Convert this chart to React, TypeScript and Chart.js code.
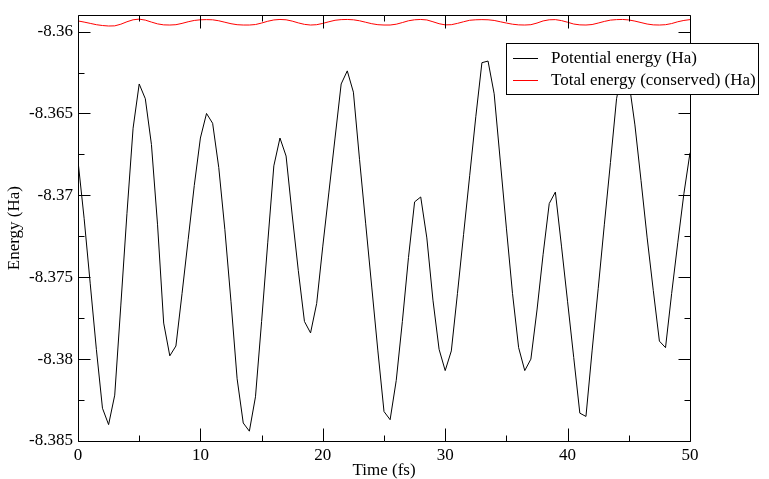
import React, { useEffect, useRef } from "react";
import { Chart, registerables } from "chart.js";

Chart.register(...registerables);

const TIME = [
  0, 0.5, 1, 1.5, 2, 2.5, 3, 3.5, 4, 4.5, 5, 5.5, 6, 6.5, 7, 7.5, 8, 8.5, 9, 9.5,
  10, 10.5, 11, 11.5, 12, 12.5, 13, 13.5, 14, 14.5, 15, 15.5, 16, 16.5, 17, 17.5, 18, 18.5, 19, 19.5,
  20, 20.5, 21, 21.5, 22, 22.5, 23, 23.5, 24, 24.5, 25, 25.5, 26, 26.5, 27, 27.5, 28, 28.5, 29, 29.5,
  30, 30.5, 31, 31.5, 32, 32.5, 33, 33.5, 34, 34.5, 35, 35.5, 36, 36.5, 37, 37.5, 38, 38.5, 39, 39.5,
  40, 40.5, 41, 41.5, 42, 42.5, 43, 43.5, 44, 44.5, 45, 45.5, 46, 46.5, 47, 47.5, 48, 48.5, 49, 49.5,
  50,
];

const POTENTIAL = [
  -8.3679, -8.3714, -8.3754, -8.3794, -8.383, -8.384, -8.3822, -8.3767, -8.3711, -8.3659,
  -8.3632, -8.3641, -8.3669, -8.3718, -8.3778, -8.3798, -8.3792, -8.376, -8.3727, -8.3694,
  -8.3665, -8.365, -8.3656, -8.3683, -8.3721, -8.3765, -8.3812, -8.3839, -8.3844, -8.3823,
  -8.3777, -8.3729, -8.3682, -8.3665, -8.3676, -8.3712, -8.3746, -8.3777, -8.3784, -8.3766,
  -8.3731, -8.3698, -8.3665, -8.3632, -8.3624, -8.3637, -8.3678, -8.3717, -8.3756, -8.3795,
  -8.3832, -8.3837, -8.3813, -8.3777, -8.3738, -8.3704, -8.3701, -8.3726, -8.3764, -8.3794,
  -8.3807, -8.3795, -8.376, -8.3724, -8.3688, -8.3652, -8.3619, -8.3618, -8.3638, -8.3679,
  -8.372, -8.376, -8.3793, -8.3807, -8.38, -8.377, -8.3736, -8.3705, -8.3698, -8.3731,
  -8.3765, -8.3799, -8.3833, -8.3835, -8.3795, -8.3757, -8.3718, -8.368, -8.3641, -8.3622,
  -8.363, -8.3657, -8.3691, -8.3726, -8.3758, -8.3789, -8.3793, -8.376, -8.3729, -8.3699,
  -8.3674,
];

const TOTAL = [
  -8.35935, -8.35942, -8.3595, -8.35958, -8.35963, -8.35966, -8.35965, -8.35955, -8.3594, -8.35928,
  -8.35924, -8.3593, -8.35942, -8.35953, -8.35959, -8.3596, -8.35958, -8.3595, -8.3594, -8.35932,
  -8.35928, -8.35927, -8.35928, -8.35934, -8.35943, -8.35952, -8.35958, -8.3596, -8.3596, -8.35957,
  -8.35948, -8.35937, -8.35929, -8.35926, -8.35928, -8.35936, -8.35947, -8.35956, -8.3596, -8.35958,
  -8.3595, -8.3594, -8.35931, -8.35927, -8.35926, -8.35928, -8.35934, -8.35943, -8.35952, -8.35958,
  -8.3596, -8.3596, -8.35955, -8.35945, -8.35934, -8.35928, -8.35926, -8.35929, -8.3594, -8.35952,
  -8.35959, -8.35958, -8.3595, -8.3594, -8.35931, -8.35928, -8.35927, -8.35928, -8.35932, -8.3594,
  -8.35948, -8.35955, -8.35959, -8.3596, -8.35958, -8.35948, -8.35935, -8.35928, -8.35927, -8.35933,
  -8.35943, -8.35954, -8.35959, -8.3596, -8.35957, -8.35948, -8.35938, -8.3593, -8.35927, -8.35926,
  -8.35929, -8.35936, -8.35945, -8.35954, -8.35959, -8.3596, -8.35958, -8.35951, -8.3594, -8.35932,
  -8.35927,
];

const SERIES_LABELS = ["Potential energy (Ha)", "Total energy (conserved) (Ha)"];
const SERIES_COLORS = ["#000000", "#ff0000"];

const X_MAJOR = [0, 10, 20, 30, 40, 50];
const X_MINOR = [5, 15, 25, 35, 45];
const Y_MAJOR = [-8.385, -8.38, -8.375, -8.37, -8.365, -8.36];
const Y_MINOR = [-8.3825, -8.3775, -8.3725, -8.3675, -8.3625];

const X_TITLE = "Time (fs)";
const Y_TITLE = "Energy (Ha)";

const FONT_FAMILY = "'Liberation Serif', 'Times New Roman', serif";
const FONT_SIZE = 17;

const framePlugin = {
  id: "xmgraceFrame",
  afterDatasetsDraw(chart: any) {
    const { ctx, chartArea, scales } = chart;
    const l = Math.round(chartArea.left) + 0.5;
    const r = Math.round(chartArea.right) + 0.5;
    const t = Math.round(chartArea.top) + 0.5;
    const b = Math.round(chartArea.bottom) + 0.5;
    ctx.save();
    ctx.strokeStyle = "#000";
    ctx.lineWidth = 1;
    ctx.beginPath();
    ctx.rect(l, t, r - l, b - t);
    const xs = scales.x;
    const ys = scales.y;
    const xt = (v: number, len: number) => {
      const px = Math.round(xs.getPixelForValue(v)) + 0.5;
      ctx.moveTo(px, b);
      ctx.lineTo(px, b - len);
      ctx.moveTo(px, t);
      ctx.lineTo(px, t + len);
    };
    const yt = (v: number, len: number) => {
      const py = Math.round(ys.getPixelForValue(v)) + 0.5;
      ctx.moveTo(l, py);
      ctx.lineTo(l + len, py);
      ctx.moveTo(r, py);
      ctx.lineTo(r - len, py);
    };
    X_MAJOR.forEach((v) => xt(v, 13));
    X_MINOR.forEach((v) => xt(v, 6));
    Y_MAJOR.forEach((v) => yt(v, 12));
    Y_MINOR.forEach((v) => yt(v, 6));
    ctx.stroke();
    ctx.restore();
  },
  afterDraw(chart: any) {
    const { ctx } = chart;
    const bx = 506.5;
    const by = 43.5;
    const bw = 252;
    const bh = 51;
    ctx.save();
    ctx.fillStyle = "#ffffff";
    ctx.fillRect(bx, by, bw, bh);
    ctx.strokeStyle = "#000";
    ctx.lineWidth = 1;
    ctx.strokeRect(bx, by, bw, bh);
    ctx.font = FONT_SIZE + "px " + FONT_FAMILY;
    ctx.textBaseline = "middle";
    ctx.textAlign = "left";
    chart.data.datasets.forEach((ds: any, i: number) => {
      const yy = 58.5 + i * 22;
      ctx.strokeStyle = ds.borderColor;
      ctx.beginPath();
      ctx.moveTo(513, yy);
      ctx.lineTo(538, yy);
      ctx.stroke();
      ctx.fillStyle = "#000";
      ctx.fillText(ds.label, 551, yy);
    });
    ctx.restore();
  },
};

export default function App() {
  const canvasRef = useRef<HTMLCanvasElement | null>(null);

  useEffect(() => {
    document.body.style.margin = "0";
    const canvas = canvasRef.current;
    if (!canvas) return;
    const chart = new Chart(canvas, {
      type: "line",
      data: {
        datasets: [
          {
            label: SERIES_LABELS[0],
            data: TIME.map((t, i) => ({ x: t, y: POTENTIAL[i] })),
            borderColor: SERIES_COLORS[0],
            borderWidth: 1,
            pointRadius: 0,
            tension: 0,
            fill: false,
          },
          {
            label: SERIES_LABELS[1],
            data: TIME.map((t, i) => ({ x: t, y: TOTAL[i] })),
            borderColor: SERIES_COLORS[1],
            borderWidth: 1,
            pointRadius: 0,
            tension: 0,
            fill: false,
          },
        ],
      },
      options: {
        responsive: false,
        animation: false,
        layout: { padding: { left: 0, top: 13, right: 79, bottom: 0 } },
        plugins: {
          legend: { display: false },
          tooltip: { enabled: false },
        },
        scales: {
          x: {
            type: "linear",
            min: 0,
            max: 50,
            grid: { display: false, drawTicks: false },
            border: { display: false },
            afterBuildTicks: (scale: any) => {
              scale.ticks = X_MAJOR.map((v) => ({ value: v }));
            },
            afterFit: (scale: any) => {
              scale.height = 38;
            },
            ticks: {
              color: "#000",
              padding: 4,
              maxRotation: 0,
              autoSkip: false,
              font: { family: FONT_FAMILY, size: FONT_SIZE },
              callback: (v: any) => String(v),
            },
            title: {
              display: true,
              text: X_TITLE,
              color: "#000",
              padding: { top: 0, bottom: 0 },
              font: { family: FONT_FAMILY, size: FONT_SIZE, lineHeight: 1 },
            },
          },
          y: {
            type: "linear",
            min: -8.385,
            max: -8.359,
            grid: { display: false, drawTicks: false },
            border: { display: false },
            afterBuildTicks: (scale: any) => {
              scale.ticks = Y_MAJOR.map((v) => ({ value: v }));
            },
            afterFit: (scale: any) => {
              scale.width = 78;
            },
            ticks: {
              color: "#000",
              padding: 5,
              autoSkip: false,
              font: { family: FONT_FAMILY, size: FONT_SIZE },
              callback: (v: any) => String(Math.round(Number(v) * 1000) / 1000),
            },
            title: {
              display: true,
              text: Y_TITLE,
              color: "#000",
              padding: { top: 6, bottom: 0 },
              font: { family: FONT_FAMILY, size: FONT_SIZE, lineHeight: 1 },
            },
          },
        },
      },
      plugins: [framePlugin],
    } as any);
    return () => chart.destroy();
  }, []);

  return (
    <div style={{ position: "fixed", left: 0, top: 0, width: 769, height: 479, background: "#fff" }}>
      <canvas ref={canvasRef} width={769} height={479} style={{ display: "block" }} />
    </div>
  );
}
